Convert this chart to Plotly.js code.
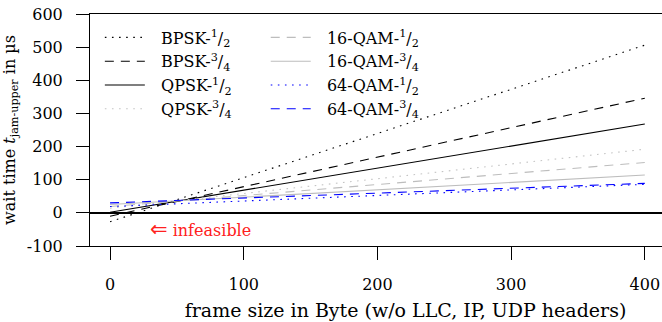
<!DOCTYPE html>
<html>
<head>
<meta charset="utf-8">
<script src="https://cdn.plot.ly/plotly-3.0.1.min.js"></script>
<style>
html, body { margin: 0; padding: 0; overflow: hidden; background: #fff; }
#chart { width: 740px; height: 322px; }
</style>
</head>
<body>
<div id="chart"></div>
<script>
// frame size in Byte
const frameSize = [0, 100, 200, 300, 400];

// wait time t_jam-upper in µs
const bpsk12  = [-27, 106, 240, 373, 506];
const bpsk34  = [-10, 79, 168, 257, 346];
const qpsk12  = [2, 69, 135, 202, 268];
const qpsk34  = [14, 58, 103, 147, 192];
const qam16_12 = [19, 52, 86, 119, 152];
const qam16_34 = [25, 47, 69, 92, 114];
const qam64_12 = [19, 36, 53, 69, 86];
const qam64_34 = [30, 45, 60, 74, 89];

const seriesNames = [
  'BPSK-<sup>1</sup>/<sub>2</sub>',
  'BPSK-<sup>3</sup>/<sub>4</sub>',
  'QPSK-<sup>1</sup>/<sub>2</sub>',
  'QPSK-<sup>3</sup>/<sub>4</sub>',
  '16-QAM-<sup>1</sup>/<sub>2</sub>',
  '16-QAM-<sup>3</sup>/<sub>4</sub>',
  '64-QAM-<sup>1</sup>/<sub>2</sub>',
  '64-QAM-<sup>3</sup>/<sub>4</sub>'
];
const seriesValues = [bpsk12, bpsk34, qpsk12, qpsk34, qam16_12, qam16_34, qam64_12, qam64_34];

const DOT = '1.6px,5.5px';
const DASH = '9px,7px';
const styles = [
  {color: '#000000', dash: DOT, legend: 'legend'},
  {color: '#000000', dash: DASH, legend: 'legend'},
  {color: '#000000', dash: 'solid', legend: 'legend'},
  {color: '#c4c4c4', dash: DOT, legend: 'legend'},
  {color: '#bdbdbd', dash: DASH, legend: 'legend2'},
  {color: '#bdbdbd', dash: 'solid', legend: 'legend2'},
  {color: '#0000ff', dash: DOT, legend: 'legend2'},
  {color: '#0000ff', dash: DASH, legend: 'legend2'}
];

// spacing between legend sample and label
const GAP = '\u2002\u2009';

const traces = seriesValues.map((vals, i) => ({
  type: 'scatter',
  mode: 'lines',
  x: frameSize,
  y: vals,
  name: GAP + seriesNames[i],
  legend: styles[i].legend,
  line: {color: styles[i].color, dash: styles[i].dash, width: 1.1}
}));

const FONT = 'DejaVu Serif';

const layout = {
  width: 740,
  height: 322,
  margin: {l: 90, r: 19, t: 14, b: 76},
  paper_bgcolor: '#ffffff',
  plot_bgcolor: '#ffffff',
  font: {family: FONT, size: 16, color: '#000000'},
  showlegend: true,
  xaxis: {
    range: [-15, 457],
    tickvals: [0, 100, 200, 300, 400],
    ticktext: ['0', '100', '200', '300', '400'],
    ticks: 'outside',
    ticklen: 13,
    tickwidth: 1,
    tickcolor: '#000',
    ticklabelstandoff: 11,
    showline: true,
    linecolor: '#000',
    linewidth: 1,
    mirror: true,
    showgrid: false,
    zeroline: false,
    tickfont: {family: FONT, size: 16},
    title: {text: 'frame size in Byte (w/o LLC, IP, UDP headers)', font: {family: FONT, size: 19}, standoff: 10}
  },
  yaxis: {
    range: [-100, 600],
    tickvals: [-100, 0, 100, 200, 300, 400, 500, 600],
    ticktext: ['-100', '0', '100', '200', '300', '400', '500', '600'],
    ticks: 'outside',
    ticklen: 13,
    tickwidth: 1,
    tickcolor: '#000',
    ticklabelstandoff: 10,
    showline: true,
    linecolor: '#000',
    linewidth: 1,
    mirror: true,
    showgrid: false,
    zeroline: true,
    zerolinecolor: '#000',
    zerolinewidth: 1.6,
    tickfont: {family: FONT, size: 16},
    title: {text: 'wait time <i>t</i><sub>jam-upper</sub> in µs', font: {family: FONT, size: 16}, standoff: 8}
  },
  legend: {
    x: 0.0156, y: 0.972, xanchor: 'left', yanchor: 'top',
    bgcolor: 'rgba(0,0,0,0)', borderwidth: 0,
    font: {family: FONT, size: 16},
    itemwidth: 40
  },
  legend2: {
    x: 0.2785, y: 0.972, xanchor: 'left', yanchor: 'top',
    bgcolor: 'rgba(0,0,0,0)', borderwidth: 0,
    font: {family: FONT, size: 16},
    itemwidth: 40
  },
  annotations: [{
    x: 68, y: -50, xref: 'x', yref: 'y',
    text: '<span style="font-family:\'DejaVu Sans\';font-size:21px">⇐</span> infeasible', showarrow: false,
    font: {family: FONT, size: 16, color: '#ff2020'}
  }]
};

Plotly.newPlot('chart', traces, layout, {staticPlot: true, displayModeBar: false});
</script>
</body>
</html>
